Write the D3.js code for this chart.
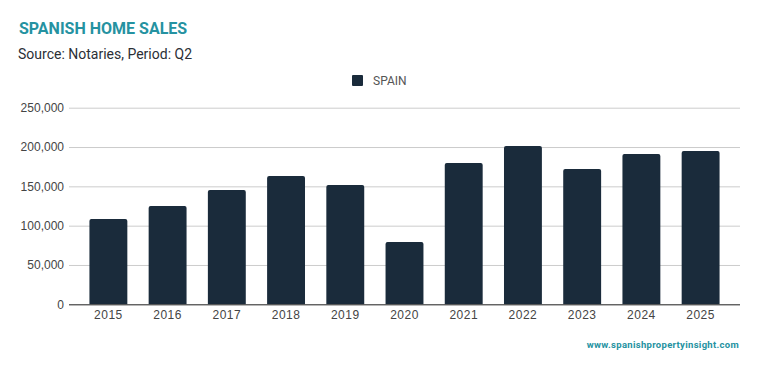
<!DOCTYPE html>
<html>
<head>
<meta charset="utf-8">
<style>
    body { margin: 0; background: #fff; font-family: Roboto, sans-serif; }
    svg { display: block; }
    .grid line { stroke: #cccccc; stroke-width: 1; }
    .grid .domain { display: none; }
    .y .domain { display: none; }
    .y .tick line { display: none; }
    .y .tick text { font-size: 12px; fill: #444; }
    .x .tick line { display: none; }
    .x .domain { stroke: #333; }
    .x .tick text { font-size: 12px; fill: #444; letter-spacing: 0.5px; }
</style>
</head>
<body>
<svg width="759" height="371"></svg>
<script src="https://d3js.org/d3.v7.min.js"></script>
<script>
    let years = ["2015", "2016", "2017", "2018", "2019", "2020", "2021", "2022", "2023", "2024", "2025"]
    let sales = [108500, 125000, 145300, 163100, 151700, 79200, 179700, 201300, 172000, 191100, 194900]
    let yTicks = [0, 50000, 100000, 150000, 200000, 250000]
    let seriesName = "SPAIN"

    let margin = { top: 107.7, right: 19, bottom: 66.7, left: 69 }
    let width = 759, height = 371

    let svg = d3.select("svg")

    let x = d3.scaleBand()
        .domain(years)
        .range([margin.left, width - margin.right])
        .paddingInner(0.36)
        .paddingOuter(0.345)

    let y = d3.scaleLinear()
        .domain([0, 250000])
        .range([height - margin.bottom, margin.top])

    // gridlines
    svg.append("g")
        .attr("class", "grid")
        .attr("transform", `translate(${margin.left},0)`)
        .call(d3.axisLeft(y).tickValues(yTicks).tickSize(-(width - margin.left - margin.right)).tickFormat(""))

    svg.append("g")
        .attr("class", "y axis")
        .attr("transform", `translate(${margin.left - 5},0)`)
        .call(d3.axisLeft(y).tickValues(yTicks).tickSize(0).tickPadding(0).tickFormat(d3.format(",")))

    // bars, little rounded top
    svg.append("g")
        .selectAll("path")
        .data(years)
        .join("path")
        .attr("fill", "#1a2b3b")
        .attr("d", (d, i) => {
            let x0 = x(d), w = x.bandwidth(), y0 = y(0), y1 = y(sales[i]), r = 2
            return `M${x0},${y0}V${y1 + r}Q${x0},${y1} ${x0 + r},${y1}H${x0 + w - r}Q${x0 + w},${y1} ${x0 + w},${y1 + r}V${y0}Z`
        })

    svg.append("g")
        .attr("class", "x axis")
        .attr("transform", `translate(0,${height - margin.bottom})`)
        .call(d3.axisBottom(x).tickSize(0).tickPadding(6).tickSizeOuter(0))
        .call(g => g.select(".domain").attr("d", `M${margin.left},0.5H${width - margin.right}`))

    // title + subtitle
    svg.append("text")
        .attr("x", 19).attr("y", 34)
        .style("font-size", "16px").style("font-weight", "bold").style("fill", "#2592a1")
        .text("SPANISH HOME SALES")

    svg.append("text")
        .attr("x", 18).attr("y", 59)
        .style("font-size", "14px").style("fill", "#2b2f36")
        .text("Source: Notaries, Period: Q2")

    // legend
    let legend = svg.append("g").attr("transform", "translate(352,75)")
    legend.append("rect").attr("width", 11).attr("height", 11).attr("rx", 1).attr("fill", "#1a2b3b")
    legend.append("text").attr("x", 21).attr("y", 10)
        .style("font-size", "12px").style("fill", "#555").text(seriesName)

    svg.append("text")
        .attr("x", 739).attr("y", 348)
        .attr("text-anchor", "end")
        .style("font-size", "9.5px").style("font-weight", "bold").style("fill", "#2592a1")
        .style("letter-spacing", "0.3px")
        .text("www.spanishpropertyinsight.com")
</script>
</body>
</html>
